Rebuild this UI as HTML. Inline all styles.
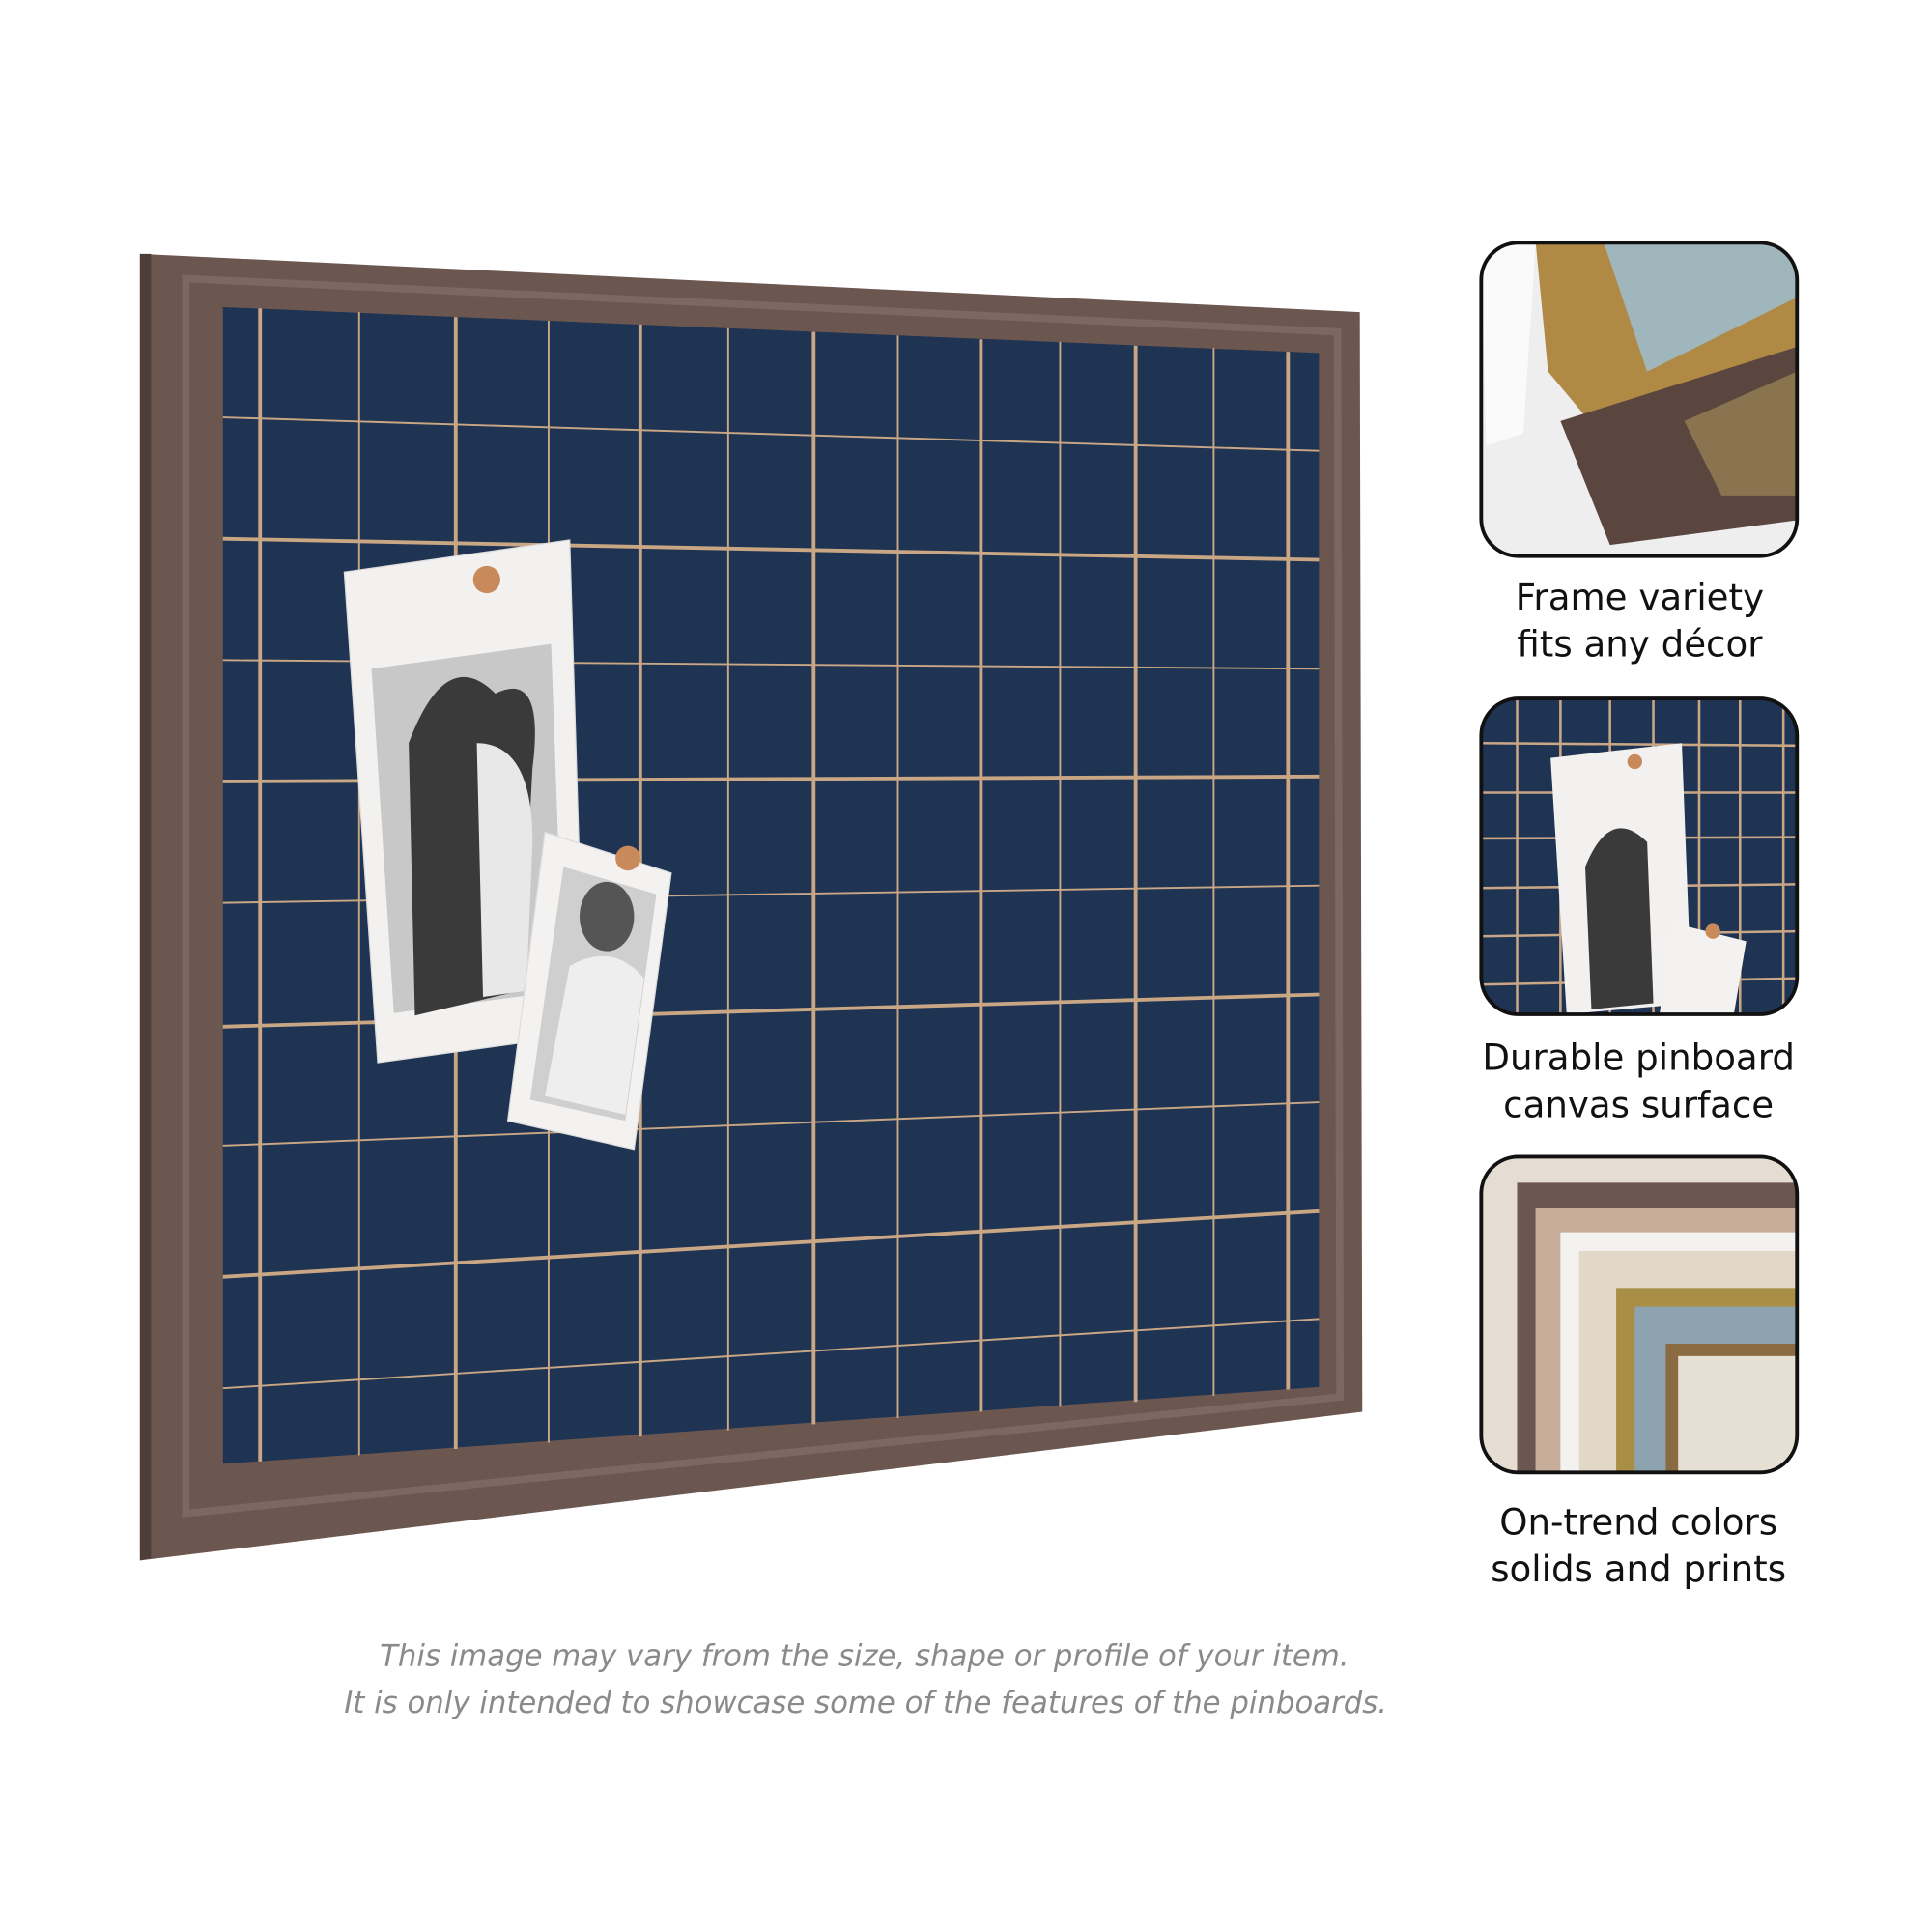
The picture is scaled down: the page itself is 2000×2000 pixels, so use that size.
<!DOCTYPE html>
<html><head><meta charset="utf-8"><style>
html,body{margin:0;padding:0;background:#fff;}
svg{display:block;}
</style></head><body>
<svg width="2000" height="2000" viewBox="0 0 1560 1560" xmlns="http://www.w3.org/2000/svg">
<defs>
<clipPath id="c1"><rect x="1196" y="196" width="255" height="253" rx="30"/></clipPath>
<clipPath id="c2"><rect x="1196" y="564" width="255" height="255" rx="30"/></clipPath>
<clipPath id="c3"><rect x="1196" y="934" width="255" height="255" rx="30"/></clipPath>
</defs>
<rect width="1560" height="1560" fill="#fff"/>
<polygon points="113,205 1098,252 1100,1140 113,1260" fill="#6b5650"/>
<polygon points="113,205 122,205 122,1258 113,1260" fill="#4e3d38"/>
<polygon points="150,225 1080,268 1082,1128 150,1222" fill="none" stroke="#7d6760" stroke-width="6"/>
<polygon points="180,248 1065,285 1065,1120 180,1182" fill="#1f3352"/>
<g stroke="#c9a785" fill="none">
<line x1="210" y1="249" x2="210" y2="1180" stroke-width="3"/>
<line x1="290" y1="252" x2="290" y2="1175" stroke-width="1.5"/>
<line x1="368" y1="256" x2="368" y2="1170" stroke-width="3"/>
<line x1="443" y1="259" x2="443" y2="1165" stroke-width="1.5"/>
<line x1="517" y1="262" x2="517" y2="1160" stroke-width="3"/>
<line x1="588" y1="265" x2="588" y2="1155" stroke-width="1.5"/>
<line x1="657" y1="268" x2="657" y2="1150" stroke-width="3"/>
<line x1="725" y1="271" x2="725" y2="1145" stroke-width="1.5"/>
<line x1="792" y1="274" x2="792" y2="1140" stroke-width="3"/>
<line x1="856" y1="276" x2="856" y2="1136" stroke-width="1.5"/>
<line x1="917" y1="279" x2="917" y2="1132" stroke-width="3"/>
<line x1="980" y1="281" x2="980" y2="1127" stroke-width="1.5"/>
<line x1="1040" y1="284" x2="1040" y2="1122" stroke-width="3"/>
<line x1="180" y1="337" x2="1065" y2="364" stroke-width="1.5"/>
<line x1="180" y1="435" x2="1065" y2="452" stroke-width="3"/>
<line x1="180" y1="533" x2="1065" y2="540" stroke-width="1.5"/>
<line x1="180" y1="631" x2="1065" y2="627" stroke-width="3"/>
<line x1="180" y1="729" x2="1065" y2="715" stroke-width="1.5"/>
<line x1="180" y1="829" x2="1065" y2="803" stroke-width="3"/>
<line x1="180" y1="925" x2="1065" y2="890" stroke-width="1.5"/>
<line x1="180" y1="1031" x2="1065" y2="978" stroke-width="3"/>
<line x1="180" y1="1121" x2="1065" y2="1065" stroke-width="1.5"/>
</g>
<polygon points="278,462 460,436 472,835 305,858" fill="#f2f1ef" stroke="#ddd"/>
<polygon points="300,540 445,520 455,800 318,818" fill="#c8c8c8"/>
<path d="M330,600 Q360,520 400,560 Q440,540 430,620 L420,800 L335,820 Z" fill="#3a3a3a"/>
<path d="M385,600 Q430,600 430,680 L425,800 L390,805 Z" fill="#e8e8e8"/>
<polygon points="440,672 542,705 512,928 410,905" fill="#f3f2f0" stroke="#ddd"/>
<polygon points="455,700 530,722 505,905 428,888" fill="#cfcfcf"/>
<ellipse cx="490" cy="740" rx="22" ry="28" fill="#555"/>
<path d="M460,780 Q495,760 520,790 L505,900 L440,885 Z" fill="#eee"/>
<circle cx="393" cy="468" r="11" fill="#c88a5a"/>
<circle cx="507" cy="693" r="10" fill="#c88a5a"/>
<g clip-path="url(#c1)">
<rect x="1196" y="196" width="255" height="253" fill="#eeeeee"/>
<polygon points="1240,196 1451,196 1451,300 1300,360 1250,300" fill="#b08a45"/>
<polygon points="1295,196 1451,196 1451,240 1330,300" fill="#9fb6bd"/>
<polygon points="1260,340 1451,280 1451,420 1300,440" fill="#5b463f"/>
<polygon points="1360,340 1451,300 1451,400 1390,400" fill="#8a7450"/>
<polygon points="1196,196 1240,196 1230,350 1200,360" fill="#fafafa"/>
</g>
<rect x="1196" y="196" width="255" height="253" rx="30" fill="none" stroke="#111" stroke-width="3"/>
<g clip-path="url(#c2)">
<rect x="1196" y="564" width="255" height="255" fill="#1f3352"/>
<g stroke="#c9a785" stroke-width="2">
<line x1="1225" y1="564" x2="1225" y2="819"/><line x1="1260" y1="564" x2="1260" y2="819"/><line x1="1300" y1="564" x2="1300" y2="819"/><line x1="1335" y1="564" x2="1335" y2="819"/><line x1="1372" y1="564" x2="1372" y2="819"/><line x1="1405" y1="564" x2="1405" y2="819"/><line x1="1440" y1="564" x2="1440" y2="819"/>
<line x1="1196" y1="600" x2="1451" y2="602"/><line x1="1196" y1="640" x2="1451" y2="640"/><line x1="1196" y1="677" x2="1451" y2="676"/><line x1="1196" y1="717" x2="1451" y2="714"/><line x1="1196" y1="756" x2="1451" y2="752"/><line x1="1196" y1="795" x2="1451" y2="790"/>
</g>
<polygon points="1252,612 1358,600 1366,810 1265,819" fill="#f2f1ef"/>
<path d="M1280,700 Q1300,650 1330,680 L1335,810 L1285,815 Z" fill="#3a3a3a"/>
<polygon points="1350,745 1410,760 1400,819 1340,819" fill="#f3f2f0"/>
<circle cx="1320" cy="615" r="6" fill="#c88a5a"/><circle cx="1383" cy="752" r="6" fill="#c88a5a"/>
</g>
<rect x="1196" y="564" width="255" height="255" rx="30" fill="none" stroke="#111" stroke-width="3"/>
<g clip-path="url(#c3)">
<rect x="1196" y="934" width="255" height="255" fill="#e5ddd2"/>
<polygon points="1225,955 1451,955 1451,975 1240,975 1240,1189 1225,1189" fill="#6b5650"/>
<rect x="1240" y="975" width="211" height="214" fill="#c7ad9a"/>
<rect x="1260" y="995" width="191" height="194" fill="#f4f2ee"/>
<rect x="1275" y="1010" width="176" height="179" fill="#e2d8c8"/>
<rect x="1305" y="1040" width="146" height="149" fill="#a88f45"/>
<rect x="1320" y="1055" width="131" height="134" fill="#8ea3b0"/>
<rect x="1345" y="1085" width="106" height="104" fill="#8a6a40"/>
<rect x="1355" y="1095" width="96" height="94" fill="#e6dfd3"/>
</g>
<rect x="1196" y="934" width="255" height="255" rx="30" fill="none" stroke="#111" stroke-width="3"/>
<g font-family="'DejaVu Sans','Liberation Sans',sans-serif" font-size="29" fill="#111" text-anchor="middle">
<text x="1324" y="492">Frame variety</text>
<text x="1324" y="530">fits any décor</text>
<text x="1323" y="864">Durable pinboard</text>
<text x="1323" y="902">canvas surface</text>
<text x="1323" y="1239">On-trend colors</text>
<text x="1323" y="1277">solids and prints</text>
</g>
<g font-family="'DejaVu Sans','Liberation Sans',sans-serif" font-style="italic" font-size="24" fill="#8a8a8a" text-anchor="middle">
<text x="698" y="1345">This image may vary from the size, shape or profile of your item.</text>
<text x="699" y="1383">It is only intended to showcase some of the features of the pinboards.</text>
</g>
</svg>
</body></html>
